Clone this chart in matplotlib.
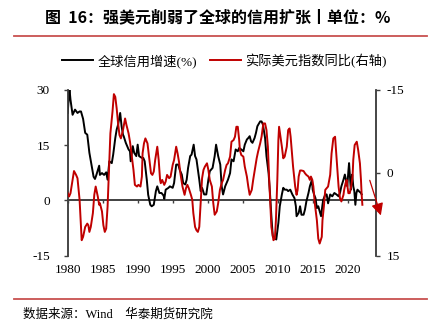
import matplotlib
matplotlib.use("Agg")
import matplotlib.pyplot as plt
from matplotlib.lines import Line2D
import numpy as np

plt.rcParams['axes.unicode_minus'] = False

# ---- data ----
credit_x = [1980.0, 1980.25, 1980.4, 1980.7, 1981.05, 1981.4, 1981.7, 1981.9, 1982.2, 1982.5,
            1982.8, 1983.1, 1983.4, 1983.7, 1983.9, 1984.1, 1984.5, 1984.6, 1984.9, 1985.2,
            1985.5, 1985.7, 1985.95, 1986.3, 1986.5, 1986.8, 1987.0, 1987.2, 1987.5, 1987.7,
            1987.9, 1988.0, 1988.3, 1988.7, 1988.9, 1989.0, 1989.3, 1989.5, 1989.8, 1990.0,
            1990.2, 1990.6, 1990.8, 1991.0, 1991.3, 1991.5, 1991.8, 1992.0, 1992.3, 1992.6,
            1992.8, 1993.1, 1993.4, 1993.7, 1993.8, 1994.0, 1994.4, 1994.6, 1995.0, 1995.2,
            1995.5, 1995.8, 1996.0, 1996.3, 1996.5, 1996.8, 1997.0, 1997.2, 1997.5, 1997.7,
            1998.0, 1998.2, 1998.4, 1998.8, 1999.0, 1999.2, 1999.5, 1999.8, 2000.1, 2000.3,
            2000.7, 2001.0, 2001.2, 2001.5, 2001.8, 2002.0, 2002.2, 2002.5, 2002.9, 2003.2,
            2003.4, 2003.7, 2004.0, 2004.3, 2004.5, 2004.8, 2005.1, 2005.3, 2005.6, 2005.8,
            2006.0, 2006.2, 2006.4, 2006.7, 2006.9, 2007.1, 2007.5, 2007.7, 2007.9, 2008.2,
            2008.4, 2008.7, 2008.9, 2009.1, 2009.3, 2009.5, 2009.8, 2010.1, 2010.3, 2010.6,
            2010.8, 2011.0, 2011.3, 2011.5, 2011.8, 2012.1, 2012.4, 2012.6, 2012.7, 2013.0,
            2013.2, 2013.4, 2013.7, 2013.9, 2014.1, 2014.4, 2014.6, 2014.9, 2015.0, 2015.2,
            2015.4, 2015.6, 2015.8, 2016.0, 2016.2, 2016.4, 2016.5, 2016.8, 2017.0, 2017.2,
            2017.5, 2017.8, 2018.1, 2018.4, 2018.7, 2018.9, 2019.1, 2019.4, 2019.6, 2019.75,
            2019.95, 2020.1, 2020.2, 2020.35, 2020.45, 2020.55, 2020.65, 2020.8, 2020.95, 2021.1,
            2021.25, 2021.4, 2021.6, 2021.9, 2022.0]
credit_growth = [23.7, 30.3, 27.3, 23.2, 24.6, 23.7, 24.1, 24.1, 22.1, 18.3,
                 17.8, 12.9, 9.6, 6.4, 5.8, 6.9, 9.4, 6.9, 7.4, 6.9,
                 7.6, 5.6, 10.6, 10.1, 12.4, 16.9, 19.2, 20.5, 23.7, 20.1,
                 17.8, 17.4, 15.6, 13.8, 13.3, 10.6, 14.7, 12.9, 12.0, 15.1,
                 12.0, 11.5, 11.5, 10.6, 5.6, 1.5, -1.2, -1.6, -1.2, 2.5,
                 3.8, 2.0, 2.0, 1.3, 0.4, 2.9, 3.4, 3.8, 3.4, 4.7,
                 9.7, 9.7, 8.3, 7.0, 4.7, 4.3, 5.6, 8.8, 12.0, 12.4,
                 15.1, 12.0, 11.1, 5.6, 2.5, 3.4, 1.6, 1.6, 5.6, 7.9,
                 8.8, 12.0, 15.1, 12.0, 9.7, 3.8, 1.6, 3.8, 5.6, 7.4,
                 11.1, 10.6, 13.8, 13.3, 14.2, 13.8, 13.3, 15.1, 16.5, 16.9,
                 17.4, 16.0, 15.6, 16.9, 18.3, 20.1, 21.4, 21.4, 20.5, 16.9,
                 12.0, 7.4, 2.0, -4.3, -9.7, -10.2, -10.6, -6.1, -1.6, 1.6,
                 3.4, 2.9, 2.9, 2.5, 2.9, 1.6, 0.6, -1.6, -4.3, -3.4,
                 -1.6, -3.9, -3.9, -2.5, -0.3, 2.0, 3.8, 5.6, 2.9, 1.6,
                 0.6, -2.1, -1.6, -3.0, -4.3, -1.2, 0.1, 1.6, 1.6, -0.8,
                 1.6, 1.1, 2.0, 1.6, 1.1, 2.0, 3.8, 5.6, 7.0, 5.6,
                 3.8, 7.9, 10.1, 5.6, 2.9, 5.6, 7.0, 3.8, 2.5, -1.2,
                 2.0, 2.9, 2.5, 2.0, 1.6]

dxy_x = [1980.0, 1980.2, 1980.4, 1980.7, 1980.9, 1981.2, 1981.4, 1981.7, 1981.9, 1982.0,
         1982.2, 1982.5, 1982.8, 1982.95, 1983.1, 1983.3, 1983.6, 1983.8, 1984.0, 1984.3,
         1984.5, 1984.6, 1984.9, 1985.1, 1985.3, 1985.5, 1985.7, 1985.9, 1986.1, 1986.4,
         1986.6, 1986.8, 1987.0, 1987.2, 1987.4, 1987.6, 1987.9, 1988.2, 1988.4, 1988.7,
         1988.9, 1989.1, 1989.4, 1989.6, 1989.9, 1990.1, 1990.4, 1990.6, 1990.7, 1990.9,
         1991.1, 1991.4, 1991.6, 1991.9, 1992.1, 1992.3, 1992.5, 1992.8, 1993.0, 1993.2,
         1993.3, 1993.5, 1993.8, 1994.0, 1994.2, 1994.5, 1994.7, 1995.0, 1995.2, 1995.5,
         1995.7, 1995.9, 1996.1, 1996.4, 1996.7, 1996.9, 1997.1, 1997.3, 1997.6, 1997.8,
         1997.95, 1998.2, 1998.4, 1998.6, 1998.8, 1999.0, 1999.2, 1999.4, 1999.6, 1999.9,
         2000.1, 2000.3, 2000.6, 2000.8, 2001.0, 2001.3, 2001.5, 2001.75, 2002.0, 2002.2,
         2002.5, 2002.7, 2002.9, 2003.2, 2003.4, 2003.7, 2003.9, 2004.1, 2004.3, 2004.5,
         2004.6, 2004.8, 2005.1, 2005.3, 2005.6, 2005.8, 2006.0, 2006.3, 2006.5, 2006.8,
         2007.0, 2007.2, 2007.5, 2007.7, 2007.95, 2008.2, 2008.4, 2008.6, 2008.75, 2008.95,
         2009.1, 2009.4, 2009.6, 2009.75, 2009.95, 2010.1, 2010.2, 2010.4, 2010.6, 2010.8,
         2011.0, 2011.3, 2011.5, 2011.7, 2011.85, 2012.0, 2012.2, 2012.5, 2012.7, 2012.85,
         2013.0, 2013.2, 2013.4, 2013.7, 2013.9, 2014.1, 2014.4, 2014.6, 2014.75, 2014.95,
         2015.1, 2015.3, 2015.6, 2015.8, 2016.0, 2016.3, 2016.4, 2016.6, 2016.8, 2017.0,
         2017.2, 2017.5, 2017.7, 2017.95, 2018.2, 2018.4, 2018.7, 2018.9, 2019.1, 2019.4,
         2019.5, 2019.7, 2019.85, 2020.1, 2020.3, 2020.5, 2020.7, 2020.8, 2021.0, 2021.3,
         2021.5, 2021.75, 2021.9, 2022.0, 2022.1]
dxy_yoy = [3.7, 4.3, 3.7, 1.3, -0.3, 0.4, 1.0, 4.9, 9.8, 12.2,
           11.6, 9.8, 9.2, 9.5, 10.7, 9.8, 7.3, 4.0, 2.5, 4.3,
           5.8, 5.5, 7.0, 9.5, 10.7, 10.1, 6.1, -0.5, -7.1, -11.0,
           -14.2, -13.7, -11.6, -8.9, -6.8, -6.2, -7.7, -9.8, -8.6, -7.1,
           -5.6, -3.5, -0.5, 2.2, 2.5, 2.2, 2.5, 0.7, -3.5, -5.3,
           -6.2, -5.3, -3.2, 0.1, 0.4, -0.2, -2.3, -4.7, -2.3, 1.3,
           1.9, 1.3, 2.2, 1.6, 0.4, 1.0, 0.7, -1.4, -2.3, -4.7,
           -3.5, -2.0, 0.1, 2.5, 4.0, 2.8, 2.2, 2.8, 4.0, 4.9,
           7.3, 9.8, 10.4, 10.7, 9.8, 5.5, 1.0, -0.5, -1.1, -1.7,
           -0.5, 1.3, 2.5, 5.5, 7.6, 7.0, 5.5, 3.1, 1.9, 1.3,
           -0.5, -1.4, -1.7, -2.9, -5.6, -5.9, -6.5, -8.3, -8.3, -5.9,
           -4.1, -3.2, -2.9, -1.1, 0.7, 2.5, 4.0, 3.1, 1.3, -1.1,
           -2.6, -3.8, -5.3, -6.5, -8.9, -8.9, -7.7, -4.7, 0.1, 5.5,
           9.8, 12.2, 11.9, 8.6, 1.3, -5.9, -8.3, -6.5, -4.7, -2.6,
           -2.9, -4.7, -7.7, -8.0, -6.5, -4.1, -1.1, 2.5, 4.0, 3.1,
           0.7, -0.4, -0.4, -0.3, 0.1, 0.4, 0.7, 1.3, 0.7, 1.3,
           2.5, 5.5, 8.6, 11.9, 12.8, 11.6, 8.6, 6.1, 3.1, 2.8,
           2.5, 0.4, -3.5, -6.2, -6.5, -2.9, 2.5, 4.6, 5.2, 4.0,
           3.1, 1.9, 1.3, 3.7, 3.7, 2.5, 0.7, -2.3, -5.0, -5.6,
           -4.1, -1.7, 1.3, 4.0, 5.8]

year_ticks = [1980, 1985, 1990, 1995, 2000, 2005, 2010, 2015, 2020]
left_ticks = [-15, 0, 15, 30]
right_ticks = [-15, 0, 15]

title = '图  16：强美元削弱了全球的信用扩张丨单位：%'
label_credit = '全球信用增速(%)'
label_dxy = '实际美元指数同比(右轴)'
source = '数据来源：Wind    华泰期货研究院'

# ---- style ----
RED = '#c00000'
RULE = '#c8504f'
SPINE = '#404040'
SERIF_CJK = ['Liberation Serif', 'Noto Sans CJK SC']
CJK = ['Noto Sans CJK SC', 'DejaVu Sans']

fig = plt.figure(figsize=(4.35, 3.31), dpi=100)
ax = fig.add_axes([0.1556, 0.2275, 0.708, 0.5015])
ax2 = ax.twinx()

l1, = ax.plot(credit_x, credit_growth, color='black', lw=1.4, zorder=3)
l2, = ax2.plot(dxy_x, dxy_yoy, color=RED, lw=1.4, zorder=3)

ax.set_xlim(1980, 2024)
ax.set_ylim(-15, 30)
ax2.set_ylim(15, -15)
ax.set_yticks(left_ticks)
ax2.set_yticks(right_ticks)
ax.set_xticks(year_ticks)

for a in (ax, ax2):
    a.spines['top'].set_visible(False)
    a.spines['bottom'].set_visible(False)
    for s in ('left', 'right'):
        a.spines[s].set_color(SPINE)
        a.spines[s].set_linewidth(1.1)

ax.tick_params(axis='x', length=0, pad=6, labelsize=9.5)
ax.tick_params(axis='y', length=3, width=1, color=SPINE, pad=10, labelsize=9.5, direction='out')
ax2.tick_params(axis='y', length=3, width=1, color=SPINE, pad=5, labelsize=9.5, direction='out')
for lab in ax.get_xticklabels() + ax.get_yticklabels() + ax2.get_yticklabels():
    lab.set_fontfamily('Liberation Serif')

# zero line with year ticks
zero_frac = (0 - (-15)) / (30 - (-15))
sec = ax.secondary_xaxis(zero_frac)
sec.set_xticks(year_ticks)
sec.tick_params(axis='x', length=2.5, width=1, color=SPINE, labelbottom=False, labeltop=False,
                direction='out')
sec.spines['bottom'].set_color(SPINE)
sec.spines['bottom'].set_linewidth(1.4)
sec.spines['top'].set_visible(False)
sec.set_zorder(1)

# arrow
ax2.annotate('', xy=(2024.86, 8.2), xytext=(2023.04, 0.9),
             arrowprops=dict(arrowstyle='-|>', color=RED, lw=0.9, mutation_scale=18),
             annotation_clip=False)

# title, rules, legend, source
fig.text(0.5, 1 - 17 / 331, title, ha='center', va='center', fontsize=11.5,
         fontweight='bold', family=CJK)
fig.add_artist(Line2D([14 / 435, 427 / 435], [1 - 36 / 331] * 2, color=RULE, lw=1.3))
fig.add_artist(Line2D([14 / 435, 427 / 435], [1 - 299 / 331] * 2, color=RULE, lw=1.3))

leg = fig.legend([l1, l2], [label_credit, label_dxy], loc='center left',
                 bbox_to_anchor=(62 / 435, 1 - 61 / 331), ncol=2, frameon=False,
                 borderpad=0, borderaxespad=0,
                 handlelength=2.35, handletextpad=0.35, columnspacing=0.95,
                 prop={'family': SERIF_CJK, 'size': 9.5})

fig.text(23 / 435, 1 - 315 / 331, source, ha='left', va='center', fontsize=9,
         family=SERIF_CJK)

fig.savefig('out.png', dpi=100)
